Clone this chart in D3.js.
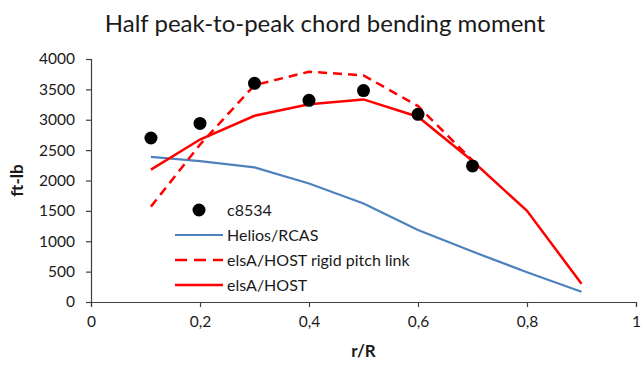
<!DOCTYPE html>
<html>
<head>
<meta charset="utf-8">
<script src="https://cdn.jsdelivr.net/npm/d3@7"></script>
<style>
  html, body { margin: 0; padding: 0; background: #ffffff; }
  svg { display: block; font-family: Lato, "Open Sans", sans-serif; }
</style>
</head>
<body>
<svg id="chart" width="644" height="367"></svg>
<script>
// Radial stations r/R and half peak-to-peak chord bending moment (ft-lb)
const expR = [0.11, 0.2, 0.3, 0.4, 0.5, 0.6, 0.7];
const expC8534 = [2700, 2940, 3600, 3320, 3480, 3090, 2240];

const heliosR = [0.11, 0.2, 0.3, 0.4, 0.5, 0.6, 0.7, 0.8, 0.9];
const heliosRCAS = [2390, 2320, 2215, 1950, 1620, 1185, 830, 490, 170];

const rigidR = [0.11, 0.2, 0.3, 0.4, 0.5, 0.6, 0.7];
const elsaRigid = [1570, 2590, 3570, 3790, 3730, 3225, 2330];

const elsaR = [0.11, 0.2, 0.3, 0.4, 0.5, 0.6, 0.7, 0.8, 0.9];
const elsaHost = [2180, 2675, 3065, 3255, 3335, 3050, 2320, 1500, 300];

const xTicks = [0, 0.2, 0.4, 0.6, 0.8, 1];
const yTicks = [0, 500, 1000, 1500, 2000, 2500, 3000, 3500, 4000];

const legendLabels = ["c8534", "Helios/RCAS", "elsA/HOST rigid pitch link", "elsA/HOST"];

const svg = d3.select("#chart");

const x = d3.scaleLinear().domain([0, 1]).range([91, 636]);
const y = d3.scaleLinear().domain([0, 4000]).range([302, 59]);

const axisColor = "#404040";
const textColor = "#1a1a1a";
const blue = "#4f81bd";
const red = "#ff0000";
const tickFont = 15.5;

// Title
svg.append("text")
  .attr("x", 325).attr("y", 32)
  .attr("text-anchor", "middle")
  .attr("font-size", 24)
  .attr("fill", textColor)
  .text("Half peak-to-peak chord bending moment");

// Y axis
const yAxis = svg.append("g")
  .attr("transform", `translate(${x(0)},0)`)
  .call(d3.axisLeft(y).tickValues(yTicks).tickSize(5).tickPadding(11).tickFormat(d3.format("d")));
yAxis.select(".domain").attr("stroke", axisColor).attr("stroke-width", 1.2);
yAxis.selectAll(".tick line").attr("stroke", axisColor).attr("stroke-width", 1.2);
yAxis.selectAll("text").attr("font-size", tickFont).attr("fill", textColor)
  .attr("font-family", "Lato, sans-serif");

// X axis
const xAxis = svg.append("g")
  .attr("transform", `translate(0,${y(0)})`)
  .call(d3.axisBottom(x).tickValues(xTicks).tickSize(5).tickPadding(9)
    .tickFormat(d => d3.format("~g")(d).replace(".", ",")));
xAxis.select(".domain").attr("stroke", axisColor).attr("stroke-width", 1.2);
xAxis.selectAll(".tick line").attr("stroke", axisColor).attr("stroke-width", 1.2);
xAxis.selectAll("text").attr("font-size", tickFont).attr("fill", textColor)
  .attr("font-family", "Lato, sans-serif");

// Axis titles
svg.append("text")
  .attr("transform", `translate(23,${(y(0) + y(4000)) / 2}) rotate(-90)`)
  .attr("text-anchor", "middle")
  .attr("font-size", 17).attr("font-weight", "bold")
  .attr("fill", textColor)
  .text("ft-lb");

svg.append("text")
  .attr("x", x(0.5)).attr("y", 357)
  .attr("text-anchor", "middle")
  .attr("font-size", 17).attr("font-weight", "bold")
  .attr("fill", textColor)
  .text("r/R");

// Series lines
const line = d3.line().x(d => x(d[0])).y(d => y(d[1]));

svg.append("path")
  .datum(d3.zip(heliosR, heliosRCAS))
  .attr("fill", "none").attr("stroke", blue).attr("stroke-width", 2.2)
  .attr("d", line);

svg.append("path")
  .datum(d3.zip(rigidR, elsaRigid))
  .attr("fill", "none").attr("stroke", red).attr("stroke-width", 2.5)
  .attr("stroke-dasharray", "9,6")
  .attr("d", line);

svg.append("path")
  .datum(d3.zip(elsaR, elsaHost))
  .attr("fill", "none").attr("stroke", red).attr("stroke-width", 2.5)
  .attr("d", line);

// Experimental points
svg.append("g").selectAll("circle")
  .data(d3.zip(expR, expC8534))
  .join("circle")
  .attr("cx", d => x(d[0])).attr("cy", d => y(d[1]))
  .attr("r", 6.5).attr("fill", "#000000");

// Legend
const legend = svg.append("g");
const rowY = [210, 235, 260, 285];
const styles = [
  { type: "dot" },
  { type: "line", color: blue, width: 2.2, dash: null },
  { type: "line", color: red, width: 2.5, dash: "12,7" },
  { type: "line", color: red, width: 2.5, dash: null }
];
legendLabels.forEach((label, i) => {
  const s = styles[i];
  if (s.type === "dot") {
    legend.append("circle").attr("cx", 199).attr("cy", rowY[i]).attr("r", 6.5).attr("fill", "#000");
  } else {
    legend.append("line")
      .attr("x1", 175).attr("x2", 223).attr("y1", rowY[i]).attr("y2", rowY[i])
      .attr("stroke", s.color).attr("stroke-width", s.width)
      .attr("stroke-dasharray", s.dash);
  }
  legend.append("text")
    .attr("x", 227).attr("y", rowY[i]).attr("dy", "0.35em")
    .attr("font-size", 16).attr("fill", textColor)
    .text(label);
});
</script>
</body>
</html>
